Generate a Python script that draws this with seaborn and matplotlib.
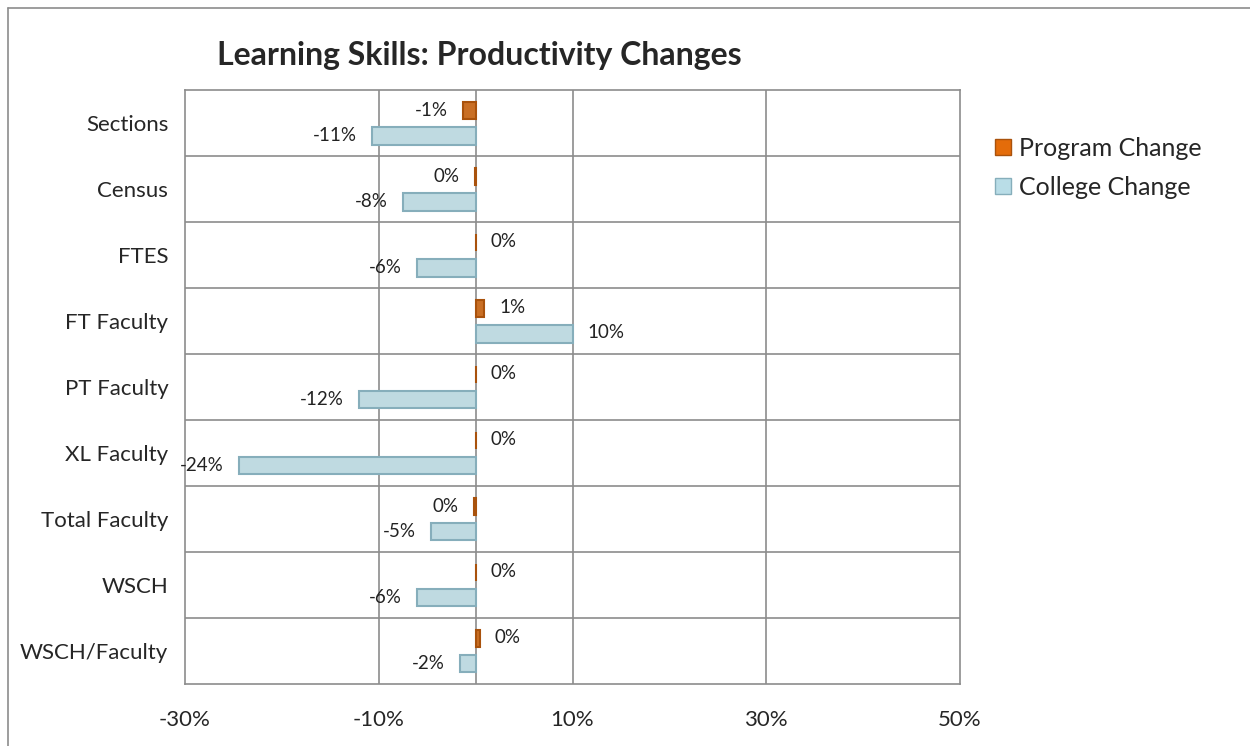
import pandas as pd
import matplotlib.pyplot as plt
import seaborn as sns
from matplotlib.lines import Line2D
from matplotlib.patches import Patch

categories = ['Sections', 'Census', 'FTES', 'FT Faculty', 'PT Faculty',
              'XL Faculty', 'Total Faculty', 'WSCH', 'WSCH/Faculty']
program_change = [-1.3, -0.1, 0.0, 0.9, 0.0, 0.0, -0.2, 0.0, 0.4]
college_change = [-10.7, -7.5, -6.1, 10.0, -12.0, -24.4, -4.6, -6.1, -1.6]
series_names = ['Program Change', 'College Change']
colors = ['#E46C0A', '#B9DDE7']
edges = ['#A9520C', '#86AEBB']

df = pd.DataFrame({
    'Category': categories * 2,
    'Change': program_change + college_change,
    'Series': [series_names[0]] * len(categories) + [series_names[1]] * len(categories),
})

sns.set_style('white')
plt.rcParams['font.family'] = ['Lato', 'DejaVu Sans']

fig = plt.figure(figsize=(12.5, 7.46), dpi=100)
ax = fig.add_axes([0.148, 0.083, 0.62, 0.796])

sns.barplot(data=df, y='Category', x='Change', hue='Series', orient='h',
            palette=colors, width=0.76, gap=0.3, legend=False, ax=ax)

for cont, ec in zip(ax.containers, edges):
    for bar in cont:
        bar.set_edgecolor(ec)
        bar.set_linewidth(1.5)

# data labels
for cont in ax.containers:
    for bar in cont:
        v = bar.get_width()
        yc = bar.get_y() + bar.get_height() / 2
        txt = f'{v:.0f}%'
        if txt == '-0%':
            txt = '0%'
        if v < 0:
            ax.annotate(txt, (v, yc), xytext=(-11, 0), textcoords='offset points',
                        ha='right', va='center', fontsize=13.5, color='#222222')
        else:
            ax.annotate(txt, (v, yc), xytext=(11, 1), textcoords='offset points',
                        ha='left', va='center', fontsize=13.5, color='#222222')

ax.set_xlim(-30, 50)
ax.set_ylim(len(categories) - 0.5, -0.5)
ax.set_xticks([-30, -10, 10, 30, 50])
ax.set_xticklabels(['-30%', '-10%', '10%', '30%', '50%'], fontsize=16)
ax.tick_params(axis='x', length=0, pad=19)
ax.tick_params(axis='y', length=0, pad=12, labelsize=16)
ax.set_xlabel('')
ax.set_ylabel('')

for xv in [-10, 10, 30]:
    ax.axvline(xv, color='#8C8C8C', linewidth=1.2, zorder=0)
ax.axvline(0, color='#8C8C8C', linewidth=1.2, zorder=0.5)
for yb in range(1, len(categories)):
    ax.axhline(yb - 0.5, color='#8C8C8C', linewidth=1.2, zorder=0)
for s in ax.spines.values():
    s.set_color('#8C8C8C')
    s.set_linewidth(1.2)

fig.text(0.174, 0.913, 'Learning Skills: Productivity Changes',
         fontsize=23, fontweight='bold', ha='left', va='baseline')

handles = [Patch(facecolor=c, edgecolor=e) for c, e in zip(colors, edges)]
fig.legend(handles, series_names, loc='upper left', bbox_to_anchor=(0.778, 0.847),
           frameon=False, fontsize=18, handlelength=0.65, handleheight=0.65,
           handletextpad=0.3, labelspacing=0.65)

# chart area border
fig.add_artist(Line2D([0.0065, 0.0065], [0, 0.989], color='#8C8C8C', linewidth=1.2))
fig.add_artist(Line2D([0.0065, 1], [0.989, 0.989], color='#8C8C8C', linewidth=1.2))

fig.savefig('out.png', dpi=100)
